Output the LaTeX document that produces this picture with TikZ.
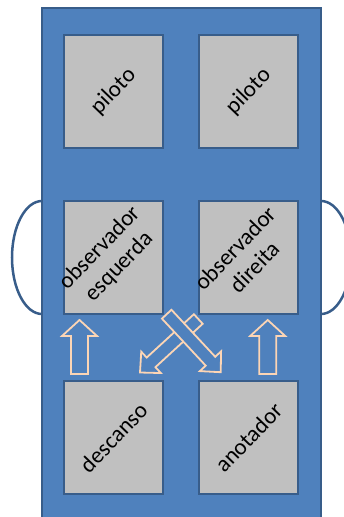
\documentclass[tikz,border=0pt]{standalone}
\usepackage{fontspec}
\setmainfont{Carlito}
\usetikzlibrary{calc}

\definecolor{panel}{HTML}{4F81BD}
\definecolor{edge}{HTML}{385D8A}
\definecolor{seat}{HTML}{C0C0C0}
\definecolor{peach}{HTML}{FCD5B5}

\tikzset{
  seatbox/.style={draw=edge, line width=2.5pt, fill=seat, rectangle,
    minimum width=99pt, minimum height=113pt, inner sep=0pt},
  seatlabel/.style={rotate=46, align=center, inner sep=0pt,
    font=\fontsize{23pt}{27pt}\selectfont},
  flow/.style={draw=peach, line width=1.8pt, fill=panel, line join=miter},
  wing/.style={draw=edge, line width=2.5pt}
}

% hollow block arrow: tail, tip, shaft half-width, head half-width, head length
\newcommand\blockarrow[5]{%
  \coordinate (#1-base) at ($(#2)!#5!(#1)$);
  \filldraw[flow]
    ($(#1)!#3!90:(#2)$) -- ($(#1-base)!#3!90:(#2)$) -- ($(#1-base)!#4!90:(#2)$)
    -- (#2)
    -- ($(#1-base)!#4!-90:(#2)$) -- ($(#1-base)!#3!-90:(#2)$) -- ($(#1)!#3!-90:(#2)$)
    -- cycle;
}

\begin{document}
\begin{tikzpicture}[x=1pt, y=-1pt]
  \useasboundingbox (0,0) rectangle (344,517);
  \clip (0,0) rectangle (344,517);

  % side wings behind the cabin
  \draw[wing] (42,257.5) ellipse [x radius=30, y radius=56.5];
  \draw[wing] (321,257.5) ellipse [x radius=30, y radius=56.5];

  % cabin
  \filldraw[draw=edge, line width=2pt, fill=panel] (42,8) rectangle (321,540);

  % seats
  \node[seatbox] (pl) at (113.5,91.5) {};
  \node[seatbox] (pr) at (248.5,91.5) {};
  \node[seatbox] (ol) at (113.5,257.5) {};
  \node[seatbox] (or) at (248.5,257.5) {};
  \node[seatbox] (dl) at (113.5,437.5) {};
  \node[seatbox] (dr) at (248.5,437.5) {};

  \node[seatlabel] (tpl) at (pl.center) {piloto};
  \node[seatlabel] (tpr) at (pr.center) {piloto};
  \node[seatlabel] (tol) at ([xshift=-4pt]ol.center) {observador\\esquerda};
  \node[seatlabel] (tor) at ([xshift=-4pt]or.center) {observador\\direita};
  \node[seatlabel] (tdl) at (dl.center) {descanso};
  \node[seatlabel] (tdr) at (dr.center) {anotador};

  % rotation arrows
  \coordinate (upLt) at (79.5,374);   \coordinate (upLh) at (79.5,320);
  \coordinate (upRt) at (267.7,374);  \coordinate (upRh) at (267.7,320);
  \coordinate (dlt) at (198.3,319);   \coordinate (dlh) at (140,372.5);
  \coordinate (drt) at (166.7,314.2); \coordinate (drh) at (220.7,372.2);

  \blockarrow{upLt}{upLh}{8.5pt}{17.5pt}{16pt}
  \blockarrow{upRt}{upRh}{8.5pt}{17.5pt}{16pt}
  \blockarrow{dlt}{dlh}{6.5pt}{14.5pt}{15pt}
  \blockarrow{drt}{drh}{6.5pt}{14.5pt}{15pt}
\end{tikzpicture}
\end{document}
